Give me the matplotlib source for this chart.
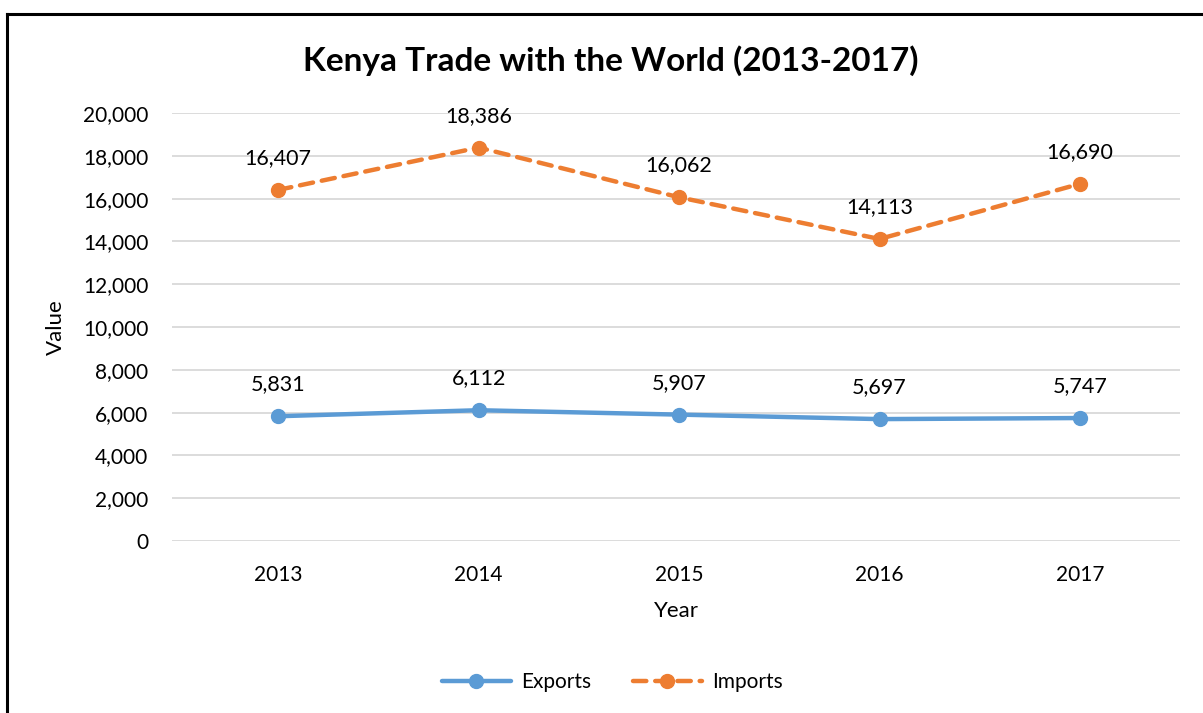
import matplotlib
matplotlib.use("Agg")
import matplotlib.pyplot as plt
from matplotlib.lines import Line2D
from matplotlib.ticker import FuncFormatter

# data
years = ["2013", "2014", "2015", "2016", "2017"]
exports = [5831, 6112, 5907, 5697, 5747]
imports = [16407, 18386, 16062, 14113, 16690]

BLUE = "#5B9BD5"
ORANGE = "#ED7D31"
GRID = "#D9D9D9"

plt.rcParams["font.family"] = ["Lato", "DejaVu Sans"]

fig = plt.figure(figsize=(12.03, 7.13), dpi=100)
ax = fig.add_axes([0.143, 0.2412, 0.838, 0.6003])

x = list(range(len(years)))
ax.plot(x, exports, color=BLUE, linewidth=3.2, marker="o", markersize=10,
        solid_capstyle="round", label="Exports", zorder=3)
ax.plot(x, imports, color=ORANGE, linewidth=3.2, marker="o", markersize=10,
        linestyle=(0, (3, 2)), dash_capstyle="round", label="Imports", zorder=3)

for series in (exports, imports):
    for xi, v in zip(x, series):
        ax.annotate(f"{v:,}", (xi, v), xytext=(0, 23), textcoords="offset points",
                    ha="center", va="center", fontsize=15.5)

ax.set_xlim(-0.53, 4.5)
ax.set_ylim(0, 20000)
ax.set_yticks(range(0, 20001, 2000))
ax.yaxis.set_major_formatter(FuncFormatter(lambda v, p: f"{int(v):,}"))
ax.set_xticks(x)
ax.set_xticklabels(years)
ax.grid(axis="y", color=GRID, linewidth=1.3)
ax.set_axisbelow(True)
for s in ax.spines.values():
    s.set_visible(False)
ax.tick_params(length=0, labelsize=15, pad=17)
ax.tick_params(axis="y", pad=17)

ax.set_xlabel("Year", fontsize=16, labelpad=12)
ax.set_ylabel("Value", fontsize=16, labelpad=12)

fig.suptitle("Kenya Trade with the World (2013-2017)", fontsize=24,
             fontweight="bold", x=0.508, y=0.937)

handles = [
    Line2D([], [], color=BLUE, linewidth=3.2, marker="o", markersize=10,
           solid_capstyle="round"),
    Line2D([], [], color=ORANGE, linewidth=3.2, marker="o", markersize=10,
           linestyle=(0, (3, 2)), dash_capstyle="round"),
]
fig.legend(handles, ["Exports", "Imports"], loc="center",
           bbox_to_anchor=(0.509, 0.043), ncol=2, frameon=False,
           fontsize=15, handlelength=3.3, handletextpad=0.5, columnspacing=2)

# outer chart border (top and left visible)
fig.add_artist(Line2D([7 / 1203, 1.0], [1 - 14 / 713, 1 - 14 / 713],
                      color="black", linewidth=2.2, transform=fig.transFigure))
fig.add_artist(Line2D([7 / 1203, 7 / 1203], [0, 1 - 14 / 713],
                      color="black", linewidth=2.2, transform=fig.transFigure))

fig.savefig("out.png", dpi=100)
